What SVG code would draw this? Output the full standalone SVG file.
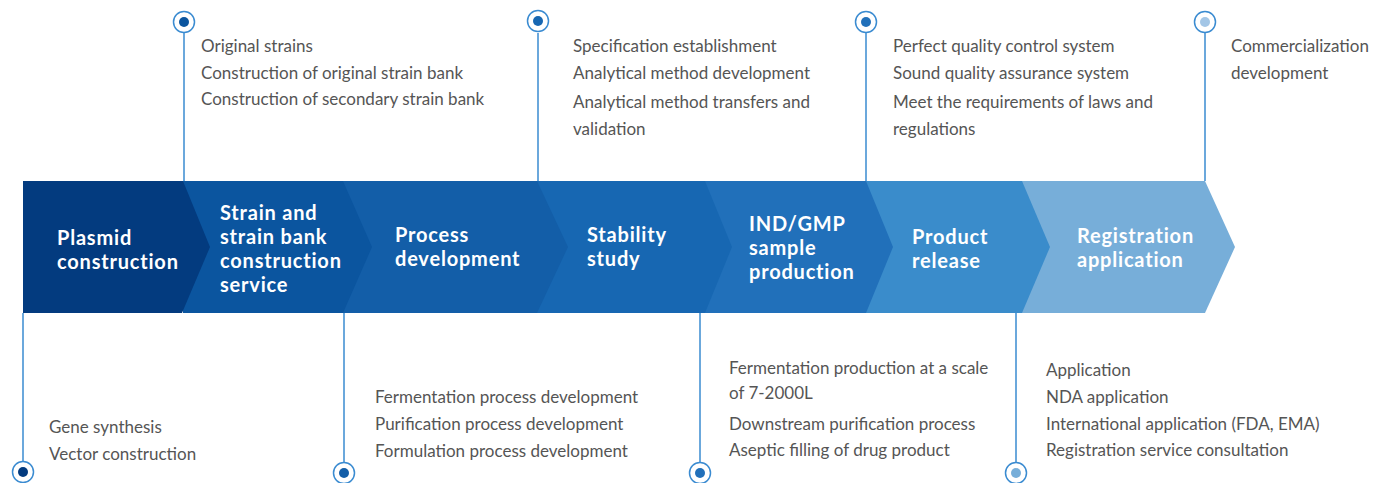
<svg xmlns="http://www.w3.org/2000/svg" width="1374" height="483" viewBox="0 0 1374 483">
<style>
.t{font-family:Lato,"Liberation Sans",sans-serif;font-size:17px;fill:#555555}
.h{font-family:Lato,"Liberation Sans",sans-serif;font-size:20px;letter-spacing:0.8px;font-weight:bold;fill:#ffffff}
.ln{stroke:#3a8bd1;stroke-width:1.5;fill:none}
.ring{fill:#ffffff;stroke:#3a8bd1;stroke-width:1.5}
</style>
<rect width="1374" height="483" fill="#ffffff"/>
<g id="connectors">
<line class="ln" x1="184" y1="33" x2="184" y2="181"/>
<line class="ln" x1="538" y1="33" x2="538" y2="181"/>
<line class="ln" x1="866" y1="33" x2="866" y2="181"/>
<line class="ln" x1="1205" y1="33" x2="1205" y2="181"/>
<line class="ln" x1="23" y1="313" x2="23" y2="462"/>
<line class="ln" x1="344" y1="313" x2="344" y2="462"/>
<line class="ln" x1="700" y1="313" x2="700" y2="462"/>
<line class="ln" x1="1016" y1="313" x2="1016" y2="462"/>
</g>
<g id="chevrons">
<polygon id="s7" points="1022,181 1205,181 1235,247 1205,313 1022,313" fill="#77aed9"/>
<polygon id="s6" points="866,181 1022,181 1050,247 1022,313 866,313" fill="#3a8ccb"/>
<polygon id="s5" points="705,181 866,181 893,247 866,313 705,313" fill="#2170ba"/>
<polygon id="s4" points="537,181 705,181 732,247 705,313 537,313" fill="#1767b2"/>
<polygon id="s3" points="343,181 537,181 568,247 537,313 343,313" fill="#135ea8"/>
<polygon id="s2" points="183,181 343,181 372,247 343,313 183,313" fill="#0b559f"/>
<polygon id="s1" points="23,181 183,181 210,247 182,313 23,313" fill="#033b7f"/>
</g>
<g id="node-plasmid">
<text class="h" x="57" y="245">Plasmid</text>
<text class="h" x="57" y="269">construction</text>
<circle class="ring" cx="23" cy="472" r="10.5"/><circle cx="23" cy="472" r="5" fill="#033b7f"/>
<text class="t" x="49" y="433">Gene synthesis</text>
<text class="t" x="49" y="460">Vector construction</text>
</g>
<g id="node-strain">
<text class="h" x="220" y="220">Strain and</text>
<text class="h" x="220" y="244">strain bank</text>
<text class="h" x="220" y="268">construction</text>
<text class="h" x="220" y="292">service</text>
<circle class="ring" cx="184" cy="22" r="10.5"/><circle cx="184" cy="22" r="5" fill="#0b559f"/>
<text class="t" x="201" y="52">Original strains</text>
<text class="t" x="201" y="79">Construction of original strain bank</text>
<text class="t" x="201" y="105">Construction of secondary strain bank</text>
</g>
<g id="node-process">
<text class="h" x="395" y="242">Process</text>
<text class="h" x="395" y="266">development</text>
<circle class="ring" cx="344" cy="473" r="10.5"/><circle cx="344" cy="473" r="5" fill="#135ea8"/>
<text class="t" x="375" y="403">Fermentation process development</text>
<text class="t" x="375" y="430">Purification process development</text>
<text class="t" x="375" y="457">Formulation process development</text>
</g>
<g id="node-stability">
<text class="h" x="587" y="242">Stability</text>
<text class="h" x="587" y="266">study</text>
<circle class="ring" cx="538" cy="21" r="10.5"/><circle cx="538" cy="21" r="5" fill="#1767b2"/>
<text class="t" x="573" y="52">Specification establishment</text>
<text class="t" x="573" y="79">Analytical method development</text>
<text class="t" x="573" y="108">Analytical method transfers and</text>
<text class="t" x="573" y="135">validation</text>
</g>
<g id="node-ind">
<text class="h" x="749" y="231">IND/GMP</text>
<text class="h" x="749" y="255">sample</text>
<text class="h" x="749" y="279">production</text>
<circle class="ring" cx="700" cy="473" r="10.5"/><circle cx="700" cy="473" r="5" fill="#2170ba"/>
<text class="t" x="729" y="374">Fermentation production at a scale</text>
<text class="t" x="729" y="399">of 7-2000L</text>
<text class="t" x="729" y="430">Downstream purification process</text>
<text class="t" x="729" y="456">Aseptic filling of drug product</text>
</g>
<g id="node-release">
<text class="h" x="912" y="244">Product</text>
<text class="h" x="912" y="268">release</text>
<circle class="ring" cx="866" cy="22" r="10.5"/><circle cx="866" cy="22" r="5" fill="#2170ba"/>
<text class="t" x="893" y="52">Perfect quality control system</text>
<text class="t" x="893" y="79">Sound quality assurance system</text>
<text class="t" x="893" y="108">Meet the requirements of laws and</text>
<text class="t" x="893" y="135">regulations</text>
</g>
<g id="node-registration">
<text class="h" x="1077" y="243">Registration</text>
<text class="h" x="1077" y="267">application</text>
<circle class="ring" cx="1205" cy="22" r="10.5"/><circle cx="1205" cy="22" r="5" fill="#a3c6e6"/>
<text class="t" x="1231" y="52">Commercialization</text>
<text class="t" x="1231" y="79">development</text>
<circle class="ring" cx="1016" cy="473" r="10.5"/><circle cx="1016" cy="473" r="5" fill="#77aed9"/>
<text class="t" x="1046" y="376">Application</text>
<text class="t" x="1046" y="403">NDA application</text>
<text class="t" x="1046" y="430">International application (FDA, EMA)</text>
<text class="t" x="1046" y="456">Registration service consultation</text>
</g>
</svg>
